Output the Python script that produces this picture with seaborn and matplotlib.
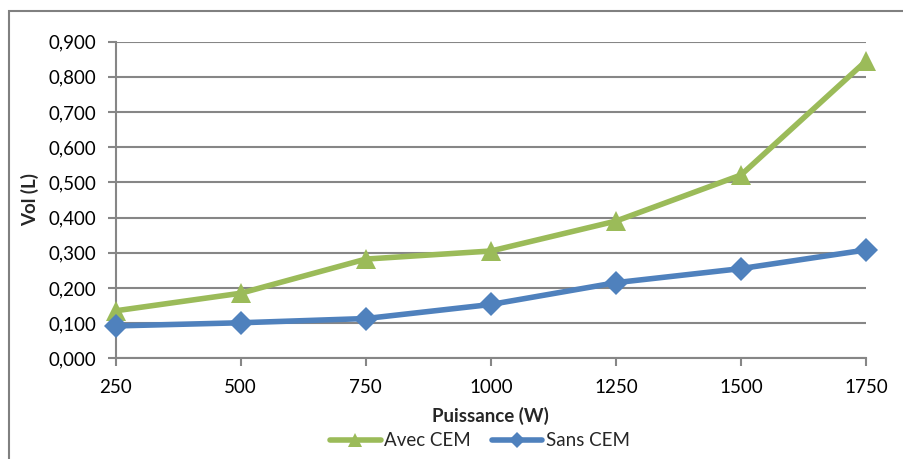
import matplotlib
matplotlib.use('Agg')
import matplotlib.pyplot as plt
import matplotlib.ticker as mticker
from matplotlib.patches import Rectangle
import seaborn as sns
import pandas as pd

# Data
puissance = [250, 500, 750, 1000, 1250, 1500, 1750]
avec_cem = [0.135, 0.185, 0.282, 0.305, 0.390, 0.521, 0.845]
sans_cem = [0.092, 0.101, 0.113, 0.153, 0.215, 0.255, 0.308]
y_ticks = [0.0, 0.1, 0.2, 0.3, 0.4, 0.5, 0.6, 0.7, 0.8, 0.9]

df = pd.DataFrame({
    'Puissance': puissance * 2,
    'Vol': avec_cem + sans_cem,
    'Serie': ['Avec CEM'] * len(puissance) + ['Sans CEM'] * len(puissance),
})

sns.set_style('white')
plt.rcParams['font.family'] = ['Lato', 'DejaVu Sans']

green = '#9BBB59'
blue = '#4F81BD'
grid_col = '#868686'

fig = plt.figure(figsize=(9.04, 4.59), dpi=100)
ax = fig.add_axes([0.128, 0.2194, 0.83, 0.6898])

sns.lineplot(data=df, x='Puissance', y='Vol', hue='Serie', style='Serie',
             palette={'Avec CEM': green, 'Sans CEM': blue},
             markers={'Avec CEM': '^', 'Sans CEM': 'D'},
             dashes=False, linewidth=4, markersize=14, markeredgewidth=0,
             ax=ax, legend=False, zorder=3, clip_on=False)
# diamonds a touch smaller than triangles
for line in ax.lines:
    if line.get_marker() == 'D':
        line.set_markersize(12)

ax.set_xlim(250, 1750)
ax.set_ylim(0, 0.9)
ax.set_xticks(puissance)
ax.set_yticks(y_ticks)
ax.yaxis.set_major_formatter(mticker.FuncFormatter(lambda v, p: f'{v:.3f}'.replace('.', ',')))
ax.grid(axis='y', color=grid_col, linewidth=1.5)
ax.set_axisbelow(True)

for s in ['top', 'right']:
    ax.spines[s].set_visible(False)
for s in ['left', 'bottom']:
    ax.spines[s].set_color(grid_col)
    ax.spines[s].set_linewidth(1.5)
ax.tick_params(axis='both', direction='out', length=6, width=1.5, color=grid_col,
               labelsize=13.5, labelcolor='black')
ax.tick_params(axis='x', pad=9, bottom=True)
ax.tick_params(axis='y', pad=8, left=True)

ax.set_xlabel('Puissance (W)', fontsize=13.5, fontweight='bold', labelpad=8)
ax.set_ylabel('Vol (L)', fontsize=13.5, fontweight='bold')
ax.yaxis.set_label_coords(-0.102, 0.5)

handles = [
    plt.Line2D([], [], color=green, marker='^', lw=4, markersize=10, markeredgewidth=0),
    plt.Line2D([], [], color=blue, marker='D', lw=4, markersize=8, markeredgewidth=0),
]
fig.legend(handles, ['Avec CEM', 'Sans CEM'], loc='center', bbox_to_anchor=(0.531, 0.04),
           ncol=2, frameon=False, fontsize=13.5, handlelength=2.7, handletextpad=0.2,
           columnspacing=1.1)

# chart area border
fig.patches.append(Rectangle((9 / 904, -0.5), 2, 1.5 - 11 / 459, transform=fig.transFigure,
                             fill=False, edgecolor='#808080', linewidth=1.5))

fig.savefig('out.png', dpi=100)
